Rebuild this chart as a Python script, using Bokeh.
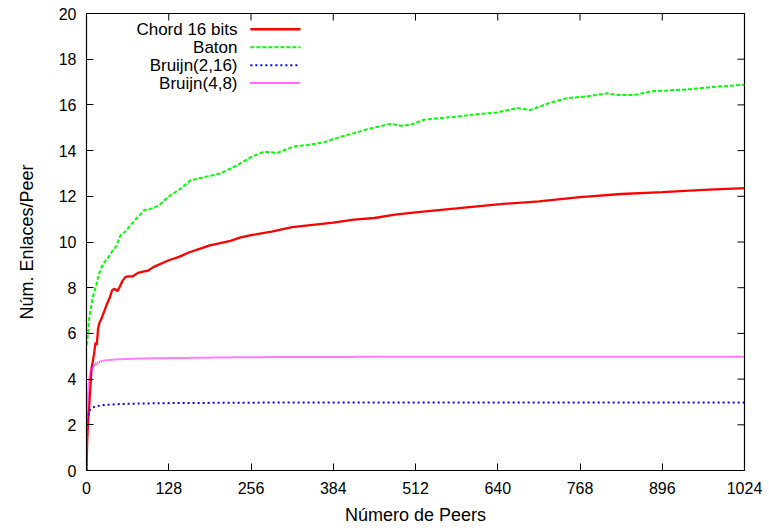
from bokeh.plotting import figure
from bokeh.models import Label, FixedTicker, Range1d
from bokeh.embed import file_html
from bokeh.resources import INLINE

# ---------------- data ----------------
chord_x = [0, 1, 2, 3, 4, 5, 6, 7, 8, 10, 12, 14, 16, 18, 20, 24, 28, 32, 36, 40, 44, 48,
           52, 56, 60, 64, 72, 80, 88, 96, 104, 112, 120, 128, 144, 160, 176, 192, 208,
           224, 240, 256, 288, 320, 352, 384, 416, 448, 480, 512, 576, 640, 704, 768,
           832, 896, 960, 1024]
chord_y = [0, 1.2, 1.9, 2.3, 2.7, 3.2, 3.6, 4.1, 4.5, 4.8, 5.15, 5.6, 5.5, 6.2, 6.45, 6.7,
           7.0, 7.3, 7.55, 7.9, 7.95, 7.85, 8.05, 8.3, 8.45, 8.5, 8.5, 8.65, 8.7, 8.75, 8.9,
           9.0, 9.1, 9.2, 9.35, 9.55, 9.7, 9.85, 9.95, 10.05, 10.2, 10.3, 10.45, 10.65,
           10.75, 10.85, 10.98, 11.05, 11.2, 11.3, 11.47, 11.65, 11.78, 11.96, 12.1, 12.18,
           12.28, 12.36]

baton_x = [1, 2, 3, 4, 6, 8, 10, 12, 16, 20, 25, 30, 36, 40, 46, 53, 60, 72, 80, 90, 100,
           113, 122, 131, 145, 162, 185, 208, 234, 255, 276, 297, 322, 345, 369, 395, 426,
           437, 473, 489, 504, 525, 550, 577, 610, 639, 670, 691, 722, 748, 779, 810, 826,
           852, 878, 904, 940, 981, 1024]
baton_y = [5.5, 6.0, 6.3, 6.6, 7.0, 7.3, 7.6, 7.8, 8.2, 8.65, 9.0, 9.2, 9.4, 9.6, 9.8, 10.3,
           10.45, 10.85, 11.1, 11.4, 11.45, 11.6, 11.85, 12.05, 12.3, 12.7, 12.85, 13.0,
           13.35, 13.7, 13.95, 13.9, 14.18, 14.25, 14.36, 14.6, 14.84, 14.94, 15.17, 15.09,
           15.13, 15.35, 15.42, 15.49, 15.6, 15.67, 15.86, 15.78, 16.1, 16.3, 16.37, 16.51,
           16.43, 16.43, 16.59, 16.63, 16.69, 16.8, 16.88]

bruijn216_x = [0, 1, 2, 3, 4, 6, 9, 14, 24, 45, 80, 131, 256, 512, 768, 1024]
bruijn216_y = [0, 2.0, 2.35, 2.5, 2.58, 2.68, 2.75, 2.8, 2.86, 2.9, 2.93, 2.95, 2.97,
               2.98, 2.98, 2.98]

bruijn48_x = [0, 1, 2, 3, 4, 6, 9, 12, 18, 24, 45, 80, 131, 256, 512, 768, 1024]
bruijn48_y = [0, 2.0, 3.0, 3.6, 3.95, 4.3, 4.5, 4.6, 4.72, 4.8, 4.86, 4.9, 4.92, 4.96,
              4.98, 4.98, 4.98]

series_names = ["Chord 16 bits", "Baton", "Bruijn(2,16)", "Bruijn(4,8)"]
x_ticks = [0, 128, 256, 384, 512, 640, 768, 896, 1024]
y_ticks = [0, 2, 4, 6, 8, 10, 12, 14, 16, 18, 20]

# ---------------- styling ----------------
FONT = "Liberation Sans"
colors = ["#ff0000", "#00ff00", "#0000ff", "#ff00ff"]
widths = [2.3, 2, 2, 2]
dashes = ["solid", "4 2", "2 3", "1 1"]

X0, X1, Y0, Y1 = 0, 1024, 0, 20
FW, FH = 658, 457
TICK_PX = 7

p = figure(frame_width=FW, frame_height=FH, output_backend="svg", toolbar_location=None,
           x_range=Range1d(X0, X1), y_range=Range1d(Y0, Y1),
           min_border_left=86, min_border_top=13, min_border_right=25, min_border_bottom=57)
p.grid.visible = False
p.outline_line_color = "black"
p.outline_line_width = 1.2
p.background_fill_color = "white"
p.border_fill_color = "white"

p.xaxis[0].ticker = FixedTicker(ticks=x_ticks)
p.yaxis[0].ticker = FixedTicker(ticks=y_ticks)
for ax in (p.xaxis[0], p.yaxis[0]):
    ax.major_tick_in = TICK_PX
    ax.major_tick_out = 0
    ax.minor_tick_line_color = None
    ax.axis_line_color = "black"
    ax.major_tick_line_color = "black"
    ax.major_label_text_font = FONT
    ax.major_label_text_font_size = "16px"
    ax.major_label_text_color = "black"
    ax.axis_label_text_font = FONT
    ax.axis_label_text_font_size = "18px"
    ax.axis_label_text_font_style = "normal"
    ax.axis_label_text_color = "black"

p.xaxis[0].axis_label = "Número de Peers"
p.xaxis[0].major_label_standoff = 11
p.xaxis[0].axis_label_standoff = 8
p.yaxis[0].axis_label = "Núm. Enlaces/Peer"
p.yaxis[0].major_label_standoff = 10
p.yaxis[0].axis_label_standoff = 19

# mirrored inward ticks on the top and right borders (gnuplot style)
dy_tick = TICK_PX * (Y1 - Y0) / FH
dx_tick = TICK_PX * (X1 - X0) / FW
p.segment(x0=x_ticks, y0=[Y1] * len(x_ticks), x1=x_ticks, y1=[Y1 - dy_tick] * len(x_ticks),
          line_color="black", line_width=1)
p.segment(x0=[X1] * len(y_ticks), y0=y_ticks, x1=[X1 - dx_tick] * len(y_ticks), y1=y_ticks,
          line_color="black", line_width=1)

data = [(chord_x, chord_y), (baton_x, baton_y), (bruijn216_x, bruijn216_y),
        (bruijn48_x, bruijn48_y)]
for (xs, ys), c, w, d in zip(data, colors, widths, dashes):
    p.line(xs, ys, line_color=c, line_width=w, line_dash=d)

# ---------------- legend (gnuplot style: text right-aligned, sample on the right) -----
LEG_TEXT_X = 235
LEG_LINE_X0 = 255
LEG_LINE_X1 = 333
LEG_Y0 = 19.31
LEG_DY = 0.785
for i, (name, c, w, d) in enumerate(zip(series_names, colors, widths, dashes)):
    yy = LEG_Y0 - i * LEG_DY
    p.add_layout(Label(x=LEG_TEXT_X, y=yy, text=name, text_align="right",
                       text_baseline="middle", text_font=FONT, text_font_size="17px",
                       text_color="black"))
    p.segment(x0=[LEG_LINE_X0], y0=[yy], x1=[LEG_LINE_X1], y1=[yy], line_color=c,
              line_width=w, line_dash=d)

open("out.html", "w").write(file_html(p, INLINE))
